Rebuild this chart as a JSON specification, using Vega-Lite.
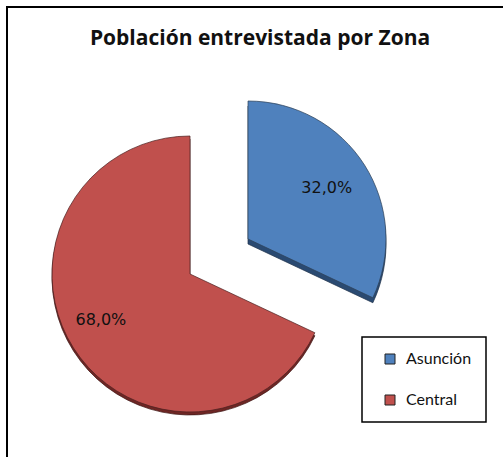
{
  "$schema": "https://vega.github.io/schema/vega-lite/v6.json",
  "autosize": {"type": "none"},
  "padding": {"left": 7, "top": 7, "right": -4, "bottom": -4},
  "width": 500,
  "height": 454,
  "background": "white",
  "view": {"stroke": "black", "strokeWidth": 2, "fill": "white"},
  "title": {
    "text": "Población entrevistada por Zona",
    "font": "Open Sans",
    "fontSize": 21,
    "fontWeight": "bold",
    "color": "#111111",
    "baseline": "alphabetic",
    "offset": -59,
    "dx": 3
  },
  "data": {
    "values": [
      {"zona": "Asunción", "share": 0.32},
      {"zona": "Central", "share": 0.68}
    ]
  },
  "transform": [
    {"stack": "share", "groupby": [], "sort": [{"field": "zona", "order": "ascending"}], "as": ["s0", "s1"]}
  ],
  "layer": [
    {
      "transform": [{"filter": "datum.zona === 'Asunción'"}],
      "mark": {"type": "arc", "radius": 138, "color": "#2A4A72", "stroke": "#1c2f48", "strokeWidth": 0.7, "xOffset": -9, "yOffset": 10},
      "encoding": {
        "theta": {"field": "s0", "type": "quantitative", "scale": {"domain": [0, 1]}},
        "theta2": {"field": "s1"}
      }
    },
    {
      "transform": [{"filter": "datum.zona === 'Asunción'"}],
      "mark": {"type": "arc", "radius": 138, "stroke": "#2d3f55", "strokeWidth": 0.7, "xOffset": -9, "yOffset": 5},
      "encoding": {
        "theta": {"field": "s0", "type": "quantitative", "scale": {"domain": [0, 1]}},
        "theta2": {"field": "s1"},
        "color": {"field": "zona", "type": "nominal", "scale": {"domain": ["Asunción", "Central"], "range": ["#4F81BD", "#C0504D"]}, "legend": {"title": null}}
      }
    },
    {
      "transform": [{"filter": "datum.zona === 'Central'"}],
      "mark": {"type": "arc", "radius": 138, "color": "#6E2624", "stroke": "#3d1514", "strokeWidth": 0.7, "xOffset": -67, "yOffset": 43},
      "encoding": {
        "theta": {"field": "s0", "type": "quantitative", "scale": {"domain": [0, 1]}},
        "theta2": {"field": "s1"}
      }
    },
    {
      "transform": [{"filter": "datum.zona === 'Central'"}],
      "mark": {"type": "arc", "radius": 138, "stroke": "#4a2020", "strokeWidth": 0.7, "xOffset": -67, "yOffset": 40},
      "encoding": {
        "theta": {"field": "s0", "type": "quantitative", "scale": {"domain": [0, 1]}},
        "theta2": {"field": "s1"},
        "color": {"field": "zona", "type": "nominal", "scale": {"domain": ["Asunción", "Central"], "range": ["#4F81BD", "#C0504D"]}, "legend": {"title": null}}
      }
    },
    {
      "mark": {"type": "text", "radius": 92, "font": "DejaVu Sans", "fontSize": 16, "color": "#111111", "xOffset": -8, "yOffset": 3},
      "encoding": {
        "theta": {"field": "share", "type": "quantitative", "stack": true},
        "order": {"field": "zona", "sort": "ascending"},
        "text": {"condition": {"test": "datum.zona === 'Asunción'", "field": "share", "format": ".1%"}, "value": ""}
      }
    },
    {
      "mark": {"type": "text", "radius": 102, "font": "DejaVu Sans", "fontSize": 16, "color": "#111111", "xOffset": -70, "yOffset": 31},
      "encoding": {
        "theta": {"field": "share", "type": "quantitative", "stack": true},
        "order": {"field": "zona", "sort": "ascending"},
        "text": {"condition": {"test": "datum.zona === 'Central'", "field": "share", "format": ".1%"}, "value": ""}
      }
    }
  ],
  "config": {
    "locale": {"number": {"decimal": ",", "thousands": ".", "grouping": [3], "currency": ["", " €"]}},
    "view": {"stroke": "black", "strokeWidth": 2},
    "legend": {
      "orient": "none",
      "legendX": 355,
      "legendY": 330,
      "strokeColor": "black",
      "strokeWidth": 1.5,
      "padding": 14,
      "symbolOffset": 6,
      "symbolType": "square",
      "symbolSize": 100,
      "symbolStrokeColor": "#222222",
      "symbolStrokeWidth": 1,
      "labelFont": "Lato",
      "labelFontSize": 16,
      "labelColor": "#111111",
      "labelOffset": 8,
      "rowPadding": 25
    }
  }
}
